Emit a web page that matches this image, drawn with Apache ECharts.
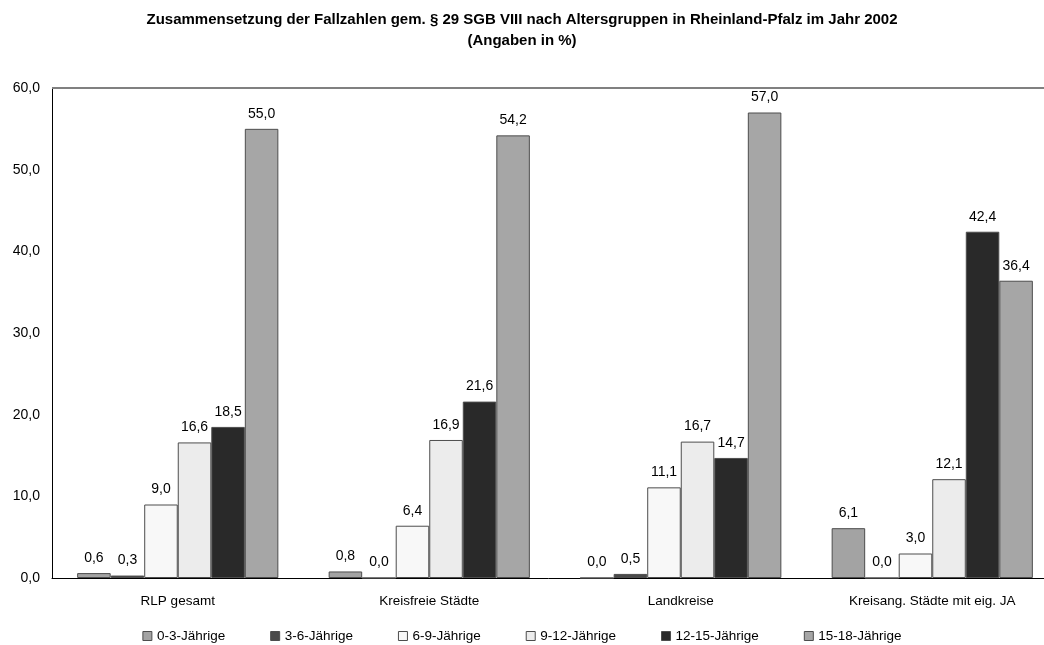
<!DOCTYPE html>
<html>
<head>
<meta charset="utf-8">
<script src="https://cdn.jsdelivr.net/npm/echarts@6/dist/echarts.min.js"></script>
<style>
html,body{margin:0;padding:0;background:#fff;}
#chart{width:1044px;height:645px;}
</style>
</head>
<body>
<div id="chart"></div>
<script>
const titleText = 'Zusammensetzung der Fallzahlen gem. § 29 SGB VIII nach Altersgruppen in Rheinland-Pfalz im Jahr 2002\n(Angaben in %)';
const categories = ['RLP gesamt', 'Kreisfreie Städte', 'Landkreise', 'Kreisang. Städte mit eig. JA'];
const seriesNames = ['0-3-Jährige', '3-6-Jährige', '6-9-Jährige', '9-12-Jährige', '12-15-Jährige', '15-18-Jährige'];
const age0to3 = [0.6, 0.8, 0.0, 6.1];
const age3to6 = [0.3, 0.0, 0.5, 0.0];
const age6to9 = [9.0, 6.4, 11.1, 3.0];
const age9to12 = [16.6, 16.9, 16.7, 12.1];
const age12to15 = [18.5, 21.6, 14.7, 42.4];
const age15to18 = [55.0, 54.2, 57.0, 36.4];
const seriesValues = [age0to3, age3to6, age6to9, age9to12, age12to15, age15to18];
const seriesColors = ['#a3a3a3', '#4a4a4a', '#f8f8f8', '#ececec', '#292929', '#a6a6a6'];

const fmt = v => Number(v).toFixed(1).replace('.', ',');
const FONT = '"Liberation Sans", Arial, sans-serif';

const series = seriesNames.map((name, i) => {
  const s = {
    name: name,
    type: 'bar',
    data: seriesValues[i],
    barGap: '0%',
    barCategoryGap: '20%',
    itemStyle: { color: seriesColors[i], borderColor: '#4d4d4d', borderWidth: 1 },
    label: {
      show: true, position: 'top', distance: 8,
      formatter: p => fmt(p.value),
      color: '#000', fontSize: 14, fontFamily: FONT
    },
    emphasis: { disabled: true }
  };
  if (i === 0) {
    s.markLine = {
      silent: true, symbol: ['none', 'none'],
      label: { show: false },
      lineStyle: { color: '#808080', type: 'solid', width: 2 },
      data: [{ yAxis: 60 }],
      animation: false
    };
  }
  return s;
});

const chart = echarts.init(document.getElementById('chart'));
chart.setOption({
  animation: false,
  backgroundColor: '#fff',
  title: {
    text: titleText, left: 'center', top: 4,
    textStyle: { fontSize: 15, fontWeight: 'bold', color: '#000', fontFamily: FONT, lineHeight: 21 }
  },
  legend: {
    data: seriesNames, bottom: -3, left: 'center',
    icon: 'rect', itemWidth: 9, itemHeight: 9, itemGap: 45,
    itemStyle: { borderColor: '#4d4d4d', borderWidth: 1 },
    textStyle: { fontSize: 13.5, color: '#000', fontFamily: FONT }
  },
  grid: { left: 52, top: 88, bottom: 67, width: 1006, outerBoundsMode: 'none', containLabel: false },
  xAxis: {
    type: 'category', data: categories,
    axisLine: { lineStyle: { color: '#000', width: 1 } },
    axisTick: { show: false },
    axisLabel: { color: '#000', fontSize: 13.5, fontFamily: FONT, margin: 16 }
  },
  yAxis: {
    type: 'value', min: 0, max: 60, interval: 10,
    axisLine: { show: true, lineStyle: { color: '#000', width: 1 } },
    axisTick: { show: false },
    splitLine: { show: false },
    axisLabel: { color: '#000', fontSize: 14, fontFamily: FONT, margin: 12, formatter: v => fmt(v) }
  },
  series: series
});
</script>
</body>
</html>
